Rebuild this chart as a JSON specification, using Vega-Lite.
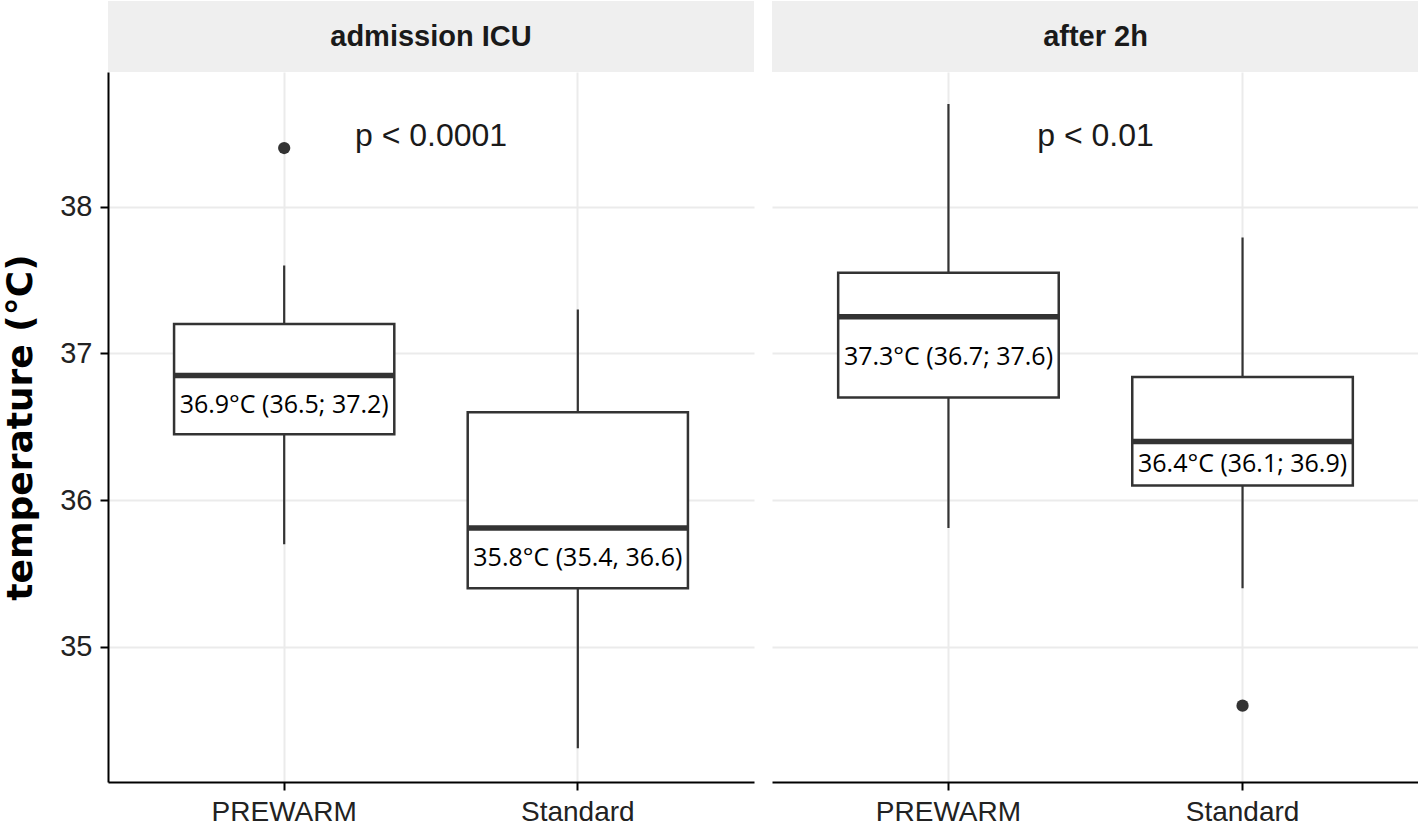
{
  "$schema": "https://vega.github.io/schema/vega-lite/v6.json",
  "padding": {"left": 2, "top": 1, "right": 0, "bottom": 0},
  "background": "white",
  "datasets": {
    "boxes": [
      {"time": "admission ICU", "group": "PREWARM", "low": 35.70, "q1": 36.45, "median": 36.85, "q3": 37.20, "high": 37.60, "label": "36.9°C (36.5; 37.2)"},
      {"time": "admission ICU", "group": "Standard", "low": 34.31, "q1": 35.40, "median": 35.81, "q3": 36.60, "high": 37.30, "label": "35.8°C (35.4, 36.6)"},
      {"time": "after 2h", "group": "PREWARM", "low": 35.81, "q1": 36.70, "median": 37.25, "q3": 37.55, "high": 38.70, "label": "37.3°C (36.7; 37.6)"},
      {"time": "after 2h", "group": "Standard", "low": 35.40, "q1": 36.10, "median": 36.40, "q3": 36.84, "high": 37.79, "label": "36.4°C (36.1; 36.9)"}
    ],
    "outliers": [
      {"time": "admission ICU", "group": "PREWARM", "temp": 38.40},
      {"time": "after 2h", "group": "Standard", "temp": 34.60}
    ],
    "pvals": [
      {"time": "admission ICU", "text": "p < 0.0001"},
      {"time": "after 2h", "text": "p < 0.01"}
    ],
    "strips": [
      {"time": "admission ICU"},
      {"time": "after 2h"}
    ]
  },
  "spacing": 18,
  "hconcat": [
    {
      "spacing": 0,
      "vconcat": [
        {
          "width": 646, "height": 71,
          "view": {"fill": "#efefef", "stroke": null},
          "data": {"name": "strips"},
          "transform": [{"filter": "datum.time === 'admission ICU'"}],
          "mark": {"type": "text", "font": "Liberation Sans", "fontWeight": "bold", "fontSize": 29, "color": "#1a1a1a"},
          "encoding": {"text": {"field": "time"}}
        },
        {
          "width": 646, "height": 710,
          "data": {"name": "boxes"},
          "transform": [{"filter": "datum.time === 'admission ICU'"}],
          "layer": [
            {
              "mark": {"type": "rule", "color": "#333333", "strokeWidth": 2.2},
              "encoding": {
                "x": {"field": "group", "type": "nominal", "sort": ["PREWARM", "Standard"],
                  "scale": {"type": "band", "paddingInner": 0.25, "paddingOuter": 0.225},
                  "axis": {"title": null, "labelAngle": 0, "labelFont": "Liberation Sans", "labelFontSize": 28, "labelColor": "#222222", "labelPadding": 8, "tickSize": 8, "tickWidth": 2, "tickColor": "black", "domainColor": "black", "domainWidth": 2, "grid": true, "gridColor": "#ebebeb", "gridWidth": 2}},
                "y": {"field": "low", "type": "quantitative",
                  "scale": {"domain": [34.08, 38.918], "nice": false, "zero": false},
                  "axis": {"title": "temperature (°C)", "values": [35, 36, 37, 38], "format": "d", "titleFont": "DejaVu Sans", "titleFontSize": 36, "titleFontWeight": "bold", "titleColor": "black", "titlePadding": 20, "labelFont": "Liberation Sans", "labelFontSize": 29, "labelColor": "#222222", "labelPadding": 8, "tickSize": 8, "tickWidth": 2, "tickColor": "black", "domainColor": "black", "domainWidth": 2, "grid": true, "gridColor": "#ebebeb", "gridWidth": 2, "minExtent": 0}},
                "y2": {"field": "high"}
              }
            },
            {
              "mark": {"type": "bar", "fill": "white", "stroke": "#333333", "strokeWidth": 2.5},
              "encoding": {
                "x": {"field": "group", "type": "nominal", "sort": ["PREWARM", "Standard"]},
                "y": {"field": "q1", "type": "quantitative"},
                "y2": {"field": "q3"}
              }
            },
            {
              "mark": {"type": "bar", "fill": null, "stroke": "#333333", "strokeWidth": 5.5},
              "encoding": {
                "x": {"field": "group", "type": "nominal", "sort": ["PREWARM", "Standard"]},
                "y": {"field": "median", "type": "quantitative"},
                "y2": {"field": "median"}
              }
            },
            {
              "transform": [{"calculate": "(datum.median + datum.q1) / 2", "as": "label_at"}],
              "mark": {"type": "text", "font": "Open Sans", "fontSize": 25, "color": "black"},
              "encoding": {
                "x": {"field": "group", "type": "nominal", "sort": ["PREWARM", "Standard"]},
                "y": {"field": "label_at", "type": "quantitative"},
                "text": {"field": "label"}
              }
            },
            {
              "data": {"name": "outliers"},
              "transform": [{"filter": "datum.time === 'admission ICU'"}],
              "mark": {"type": "point", "filled": true, "color": "#333333", "size": 150, "opacity": 1},
              "encoding": {
                "x": {"field": "group", "type": "nominal", "sort": ["PREWARM", "Standard"]},
                "y": {"field": "temp", "type": "quantitative"}
              }
            },
            {
              "data": {"name": "pvals"},
              "transform": [{"filter": "datum.time === 'admission ICU'"}],
              "mark": {"type": "text", "font": "Liberation Sans", "fontSize": 32, "color": "#1a1a1a"},
              "encoding": {
                "y": {"datum": 38.48, "type": "quantitative"},
                "text": {"field": "text"}
              }
            }
          ]
        }
      ]
    },
    {
      "spacing": 0,
      "vconcat": [
        {
          "width": 647, "height": 71,
          "view": {"fill": "#efefef", "stroke": null},
          "data": {"name": "strips"},
          "transform": [{"filter": "datum.time === 'after 2h'"}],
          "mark": {"type": "text", "font": "Liberation Sans", "fontWeight": "bold", "fontSize": 29, "color": "#1a1a1a"},
          "encoding": {"text": {"field": "time"}}
        },
        {
          "width": 647, "height": 710,
          "data": {"name": "boxes"},
          "transform": [{"filter": "datum.time === 'after 2h'"}],
          "layer": [
            {
              "mark": {"type": "rule", "color": "#333333", "strokeWidth": 2.2},
              "encoding": {
                "x": {"field": "group", "type": "nominal", "sort": ["PREWARM", "Standard"],
                  "scale": {"type": "band", "paddingInner": 0.25, "paddingOuter": 0.225},
                  "axis": {"title": null, "labelAngle": 0, "labelFont": "Liberation Sans", "labelFontSize": 28, "labelColor": "#222222", "labelPadding": 8, "tickSize": 8, "tickWidth": 2, "tickColor": "black", "domainColor": "black", "domainWidth": 2, "grid": true, "gridColor": "#ebebeb", "gridWidth": 2}},
                "y": {"field": "low", "type": "quantitative",
                  "scale": {"domain": [34.08, 38.918], "nice": false, "zero": false},
                  "axis": {"title": null, "values": [35, 36, 37, 38], "labels": false, "ticks": false, "domain": false, "grid": true, "gridColor": "#ebebeb", "gridWidth": 2, "minExtent": 0, "maxExtent": 0}},
                "y2": {"field": "high"}
              }
            },
            {
              "mark": {"type": "bar", "fill": "white", "stroke": "#333333", "strokeWidth": 2.5},
              "encoding": {
                "x": {"field": "group", "type": "nominal", "sort": ["PREWARM", "Standard"]},
                "y": {"field": "q1", "type": "quantitative"},
                "y2": {"field": "q3"}
              }
            },
            {
              "mark": {"type": "bar", "fill": null, "stroke": "#333333", "strokeWidth": 5.5},
              "encoding": {
                "x": {"field": "group", "type": "nominal", "sort": ["PREWARM", "Standard"]},
                "y": {"field": "median", "type": "quantitative"},
                "y2": {"field": "median"}
              }
            },
            {
              "transform": [{"calculate": "(datum.median + datum.q1) / 2", "as": "label_at"}],
              "mark": {"type": "text", "font": "Open Sans", "fontSize": 25, "color": "black"},
              "encoding": {
                "x": {"field": "group", "type": "nominal", "sort": ["PREWARM", "Standard"]},
                "y": {"field": "label_at", "type": "quantitative"},
                "text": {"field": "label"}
              }
            },
            {
              "data": {"name": "outliers"},
              "transform": [{"filter": "datum.time === 'after 2h'"}],
              "mark": {"type": "point", "filled": true, "color": "#333333", "size": 150, "opacity": 1},
              "encoding": {
                "x": {"field": "group", "type": "nominal", "sort": ["PREWARM", "Standard"]},
                "y": {"field": "temp", "type": "quantitative"}
              }
            },
            {
              "data": {"name": "pvals"},
              "transform": [{"filter": "datum.time === 'after 2h'"}],
              "mark": {"type": "text", "font": "Liberation Sans", "fontSize": 32, "color": "#1a1a1a"},
              "encoding": {
                "y": {"datum": 38.48, "type": "quantitative"},
                "text": {"field": "text"}
              }
            }
          ]
        }
      ]
    }
  ],
  "config": {"view": {"stroke": null}, "font": "Liberation Sans"}
}
